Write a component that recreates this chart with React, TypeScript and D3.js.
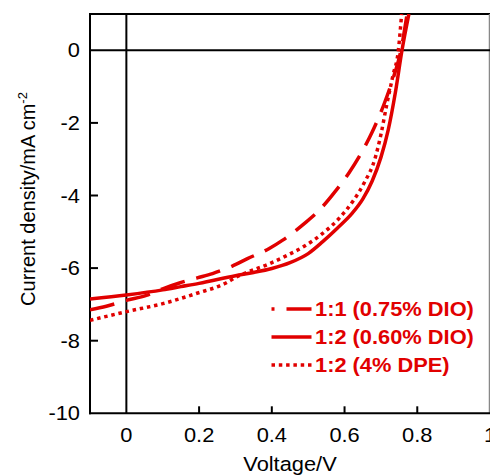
import React from 'react';
import * as d3 from 'd3';

// J-V curves (V in volts, J in mA cm^-2)
const voltageDio075 = [-0.1, -0.055, 0, 0.055, 0.1, 0.146, 0.195, 0.237, 0.29, 0.333, 0.393, 0.43, 0.49, 0.53, 0.575, 0.612, 0.639, 0.676, 0.708, 0.73, 0.755, 0.772];
const currentDio075 = [-7.15, -7.05, -6.89, -6.75, -6.57, -6.41, -6.27, -6.15, -5.95, -5.74, -5.46, -5.23, -4.77, -4.41, -3.88, -3.38, -2.95, -2.25, -1.5, -0.88, 0, 1.0];

const voltageDio060 = [-0.1, 0, 0.1, 0.15, 0.2, 0.3, 0.35, 0.4, 0.45, 0.5, 0.54, 0.58, 0.62, 0.65, 0.676, 0.7, 0.72, 0.74, 0.758, 0.777];
const currentDio060 = [-6.85, -6.74, -6.6, -6.51, -6.42, -6.21, -6.12, -6.01, -5.85, -5.6, -5.27, -4.9, -4.5, -4.1, -3.6, -2.95, -2.2, -1.15, 0, 1.0];

const voltageDpe = [-0.1, 0, 0.1, 0.192, 0.274, 0.3, 0.393, 0.438, 0.489, 0.539, 0.584, 0.625, 0.653, 0.685, 0.7, 0.716, 0.733, 0.748, 0.757];
const currentDpe = [-7.44, -7.2, -6.98, -6.7, -6.41, -6.26, -5.88, -5.67, -5.4, -5.05, -4.64, -4.13, -3.67, -2.94, -2.32, -1.5, -0.7, 0, 1.0];

const seriesNames = ['1:1 (0.75% DIO)', '1:2 (0.60% DIO)', '1:2 (4% DPE)'];
const xTicks = [0, 0.2, 0.4, 0.6, 0.8, 1];
const xTickLabels = ['0', '0.2', '0.4', '0.6', '0.8', '1'];
const yTicks = [0, -2, -4, -6, -8, -10];
const yTickLabels = ['0', '-2', '-4', '-6', '-8', '-10'];

const RED = '#e10000';
const FONT = '"Liberation Sans", Arial, sans-serif';
const SX = 1.12; // the figure's text is a little wider than tall

const W = 490;
const H = 475;
const left = 90;
const right = 490;
const top = 14;
const bottom = 413.3;

const HText = ({ x, y, anchor = 'middle', size = 19.5, weight = 'normal', fill = '#000', children }: any) => (
  <g transform={`translate(${x},${y}) scale(${SX},1)`}>
    <text textAnchor={anchor} fontSize={size} fontWeight={weight} fill={fill} fontFamily={FONT}>
      {children}
    </text>
  </g>
);

export default function App() {
  const x = d3.scaleLinear().domain([-0.1, 1.0]).range([left, right]);
  const y = d3.scaleLinear().domain([-10, 1]).range([bottom, top]);

  const line = d3
    .line<[number, number]>()
    .x(d => x(d[0]))
    .y(d => y(d[1]))
    .curve(d3.curveMonotoneX);

  const series = [
    { name: seriesNames[0], v: voltageDio075, j: currentDio075, dash: '25,12', offset: 22 },
    { name: seriesNames[1], v: voltageDio060, j: currentDio060, dash: null, offset: 0 },
    { name: seriesNames[2], v: voltageDpe, j: currentDpe, dash: '3.5,3.8', offset: 0 },
  ];

  const legendX = 271.5;
  const legendLen = 40;
  const legendY0 = 316;
  const legendStep = 28;

  return (
    <svg
      width={W}
      height={H}
      style={{ position: 'absolute', left: 0, top: 0, background: '#fff' }}
    >
      <defs>
        <clipPath id="plot">
          <rect x={left} y={top} width={right - left} height={bottom - top} />
        </clipPath>
      </defs>

      {/* frame */}
      <line x1={left} x2={right} y1={top} y2={top} stroke="#000" strokeWidth={1.8} />
      <line x1={right - 0.5} x2={right - 0.5} y1={top} y2={bottom} stroke="#888" strokeWidth={1.5} />
      <line x1={left} x2={left} y1={top - 0.9} y2={bottom + 1} stroke="#000" strokeWidth={2} />
      <line x1={left - 1} x2={right} y1={bottom} y2={bottom} stroke="#000" strokeWidth={2} />

      {/* zero lines */}
      <line x1={left} x2={right} y1={y(0)} y2={y(0)} stroke="#000" strokeWidth={2} />
      <line x1={x(0)} x2={x(0)} y1={top} y2={bottom} stroke="#000" strokeWidth={2} />

      {/* inward ticks */}
      {yTicks.filter(t => t !== 0 && t !== -10).map(t => (
        <line key={'yt' + t} x1={left} x2={left + 8} y1={y(t)} y2={y(t)} stroke="#000" strokeWidth={2} />
      ))}
      {xTicks.filter(t => t !== 0 && t !== 1).map(t => (
        <line key={'xt' + t} x1={x(t)} x2={x(t)} y1={bottom} y2={bottom - 7} stroke="#000" strokeWidth={2} />
      ))}

      {/* tick labels */}
      {yTicks.map((t, i) => (
        <HText key={'yl' + t} x={80} y={y(t) + 7} anchor="end">{yTickLabels[i]}</HText>
      ))}
      {xTicks.map((t, i) => (
        <HText key={'xl' + t} x={x(t)} y={442}>{xTickLabels[i]}</HText>
      ))}

      {/* axis titles */}
      <HText x={(left + right) / 2} y={471}>Voltage/V</HText>
      <text
        transform={`translate(35,199) rotate(-90)`}
        textAnchor="middle"
        fontSize={20}
        fontFamily={FONT}
      >
        Current density/mA cm
        <tspan fontSize={13} dy={-8}>-2</tspan>
      </text>

      {/* curves */}
      <g clipPath="url(#plot)">
        {series.map(s => (
          <path
            key={s.name}
            d={line(s.v.map((v, i) => [v, s.j[i]] as [number, number])) || ''}
            fill="none"
            stroke={RED}
            strokeWidth={3.5}
            strokeDasharray={s.dash || undefined}
          />
        ))}
      </g>

      {/* legend */}
      {series.map((s, i) => {
        const by = legendY0 + i * legendStep;
        return (
          <g key={'lg' + s.name}>
            <line
              x1={legendX}
              x2={legendX + legendLen}
              y1={by - 7}
              y2={by - 7}
              stroke={RED}
              strokeWidth={3.5}
              strokeDasharray={s.dash || undefined}
              strokeDashoffset={s.offset}
            />
            <HText x={315} y={by} anchor="start" weight="bold" fill={RED}>{s.name}</HText>
          </g>
        );
      })}
    </svg>
  );
}
